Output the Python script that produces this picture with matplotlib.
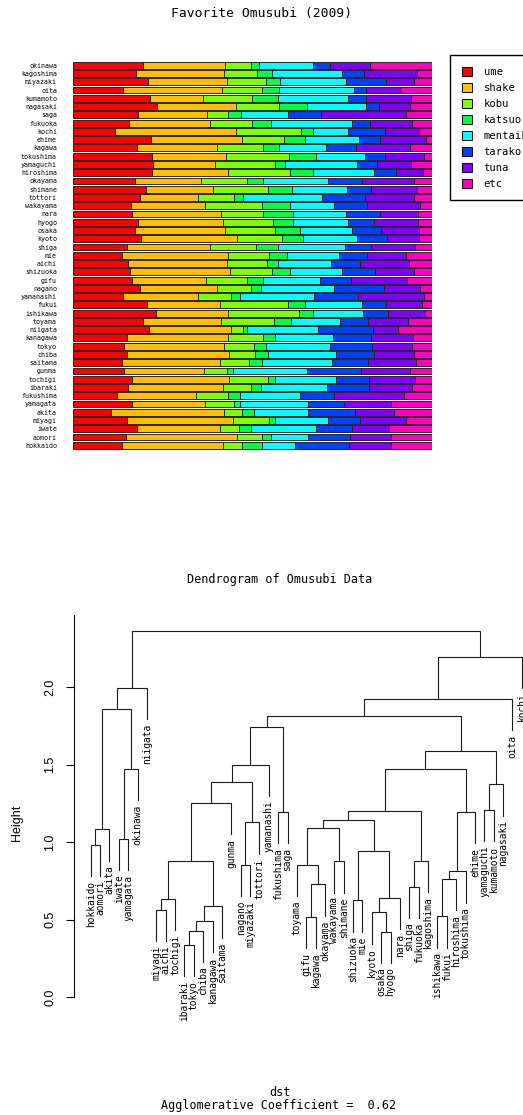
import numpy as np
import matplotlib
matplotlib.use("Agg")
import matplotlib.pyplot as plt
from matplotlib.patches import Patch

W, H = 523, 1115
MONO = "DejaVu Sans Mono"
SANS = "Liberation Sans"

# prefectures, bottom (hokkaido) to top (okinawa)
prefs = ["hokkaido", "aomori", "iwate", "miyagi", "akita", "yamagata", "fukushima",
         "ibaraki", "tochigi", "gunma", "saitama", "chiba", "tokyo", "kanagawa",
         "niigata", "toyama", "ishikawa", "fukui", "yamanashi", "nagano", "gifu",
         "shizuoka", "aichi", "mie", "shiga", "kyoto", "osaka", "hyogo", "nara",
         "wakayama", "tottori", "shimane", "okayama", "hiroshima", "yamaguchi",
         "tokushima", "kagawa", "ehime", "kochi", "fukuoka", "saga", "nagasaki",
         "kumamoto", "oita", "miyazaki", "kagoshima", "okinawa"]

# relative votes per flavour (normalised per prefecture below)
ume = [148, 160, 193, 163, 114, 177, 133, 166, 178, 153, 148, 161, 152, 161, 227, 209,
       249, 221, 151, 200, 178, 172, 166, 146, 161, 205, 185, 194, 177, 175, 201, 219,
       186, 237, 239, 238, 191, 234, 126, 169, 194, 251, 232, 151, 224, 189, 211]
shake = [301, 331, 248, 317, 338, 219, 236, 285, 291, 241, 293, 308, 302, 303, 248, 234,
         216, 221, 223, 231, 221, 298, 297, 318, 249, 286, 272, 255, 267, 221, 174, 200,
         197, 228, 186, 222, 241, 273, 363, 242, 209, 238, 158, 296, 239, 264, 246]
kobu = [59, 76, 56, 107, 55, 88, 95, 84, 114, 68, 86, 77, 88, 104, 35, 158,
        211, 203, 101, 103, 122, 127, 118, 122, 139, 136, 149, 150, 126, 171, 109, 165,
        138, 185, 180, 186, 136, 124, 193, 125, 62, 128, 147, 120, 115, 99, 78]
katsuo = [57, 26, 36, 18, 36, 16, 38, 28, 22, 19, 38, 38, 36, 37, 13, 52,
          43, 51, 25, 29, 49, 53, 32, 55, 65, 61, 73, 60, 89, 83, 27, 72,
          48, 68, 31, 82, 50, 64, 37, 56, 38, 84, 78, 51, 41, 45, 21]
mentaiko = [101, 111, 194, 160, 160, 203, 178, 197, 183, 219, 210, 205, 193, 174, 211, 147,
            150, 169, 222, 220, 171, 156, 160, 156, 202, 163, 157, 165, 159, 133, 236, 164,
            195, 184, 216, 147, 140, 162, 104, 243, 140, 176, 210, 223, 198, 209, 163]
tarako = [162, 125, 109, 95, 143, 108, 103, 127, 99, 162, 108, 113, 125, 113, 164, 83,
          76, 74, 132, 148, 93, 98, 86, 85, 77, 90, 88, 79, 101, 98, 128, 73,
          102, 67, 59, 59, 91, 64, 111, 56, 100, 39, 52, 36, 122, 65, 50]
tuna = [125, 125, 112, 139, 116, 142, 208, 128, 137, 149, 146, 120, 121, 127, 75, 121,
        110, 107, 197, 109, 167, 117, 149, 115, 132, 97, 114, 130, 115, 158, 147, 138,
        155, 81, 103, 119, 162, 136, 104, 126, 255, 94, 136, 106, 84, 160, 122]
etc = [123, 122, 128, 77, 114, 123, 85, 61, 52, 65, 47, 54, 59, 57, 103, 72,
       21, 30, 25, 36, 75, 55, 68, 79, 51, 38, 38, 43, 42, 37, 54, 45,
       55, 26, 62, 23, 65, 19, 38, 59, 78, 66, 63, 93, 53, 45, 185]

flavors = ["ume", "shake", "kobu", "katsuo", "mentaiko", "tarako", "tuna", "etc"]
colors = ["#FF0000", "#FFBF00", "#80FF00", "#00FF40", "#00FFFF", "#0040FF", "#8000FF", "#FF00BF"]

# agglomerative clustering merges: (left, right, height); int = earlier merge (1-based)
merges = [
    ("ibaraki", "tokyo", 0.337), ("osaka", "hyogo", 0.423), (1, "chiba", 0.430),
    (3, "kanagawa", 0.492), ("gifu", "kagawa", 0.520), ("ishikawa", "fukui", 0.523),
    ("kyoto", 2, 0.548), ("miyagi", "aichi", 0.565), (4, "saitama", 0.587),
    ("shizuoka", "mie", 0.626), (8, "tochigi", 0.636), (7, "nara", 0.643),
    ("shiga", "fukuoka", 0.714), (5, "okayama", 0.729), (6, "hiroshima", 0.763),
    (15, "tokushima", 0.813), ("toyama", 14, 0.854), ("nagano", "miyazaki", 0.854),
    ("wakayama", "shimane", 0.877), (11, 9, 0.880), (13, "kagoshima", 0.881),
    (10, 12, 0.942), ("hokkaido", "aomori", 0.985), ("iwate", "yamagata", 1.023),
    (23, "akita", 1.084), (17, 19, 1.090), (18, "tottori", 1.129), (26, 22, 1.146),
    ("fukushima", "saga", 1.195), (16, "ehime", 1.195), (28, 21, 1.200),
    ("yamaguchi", "kumamoto", 1.210), (20, "gunma", 1.253), (32, "nagasaki", 1.374),
    (33, 27, 1.391), (31, 30, 1.473), (24, "okinawa", 1.475), (35, "yamanashi", 1.500),
    (36, 34, 1.585), (38, 29, 1.744), (40, 39, 1.815), (25, 37, 1.858),
    (41, "oita", 1.925), (42, "niigata", 1.997), (43, "kochi", 2.197), (44, 45, 2.363),
]
agg_coef = 0.62


def box(x0, y0, x1, y1):
    # pixel box (top-left origin) -> figure fraction rect
    return [x0 / W, 1 - y1 / H, (x1 - x0) / W, (y1 - y0) / H]


fig = plt.figure(figsize=(W / 100, H / 100), dpi=100)
fig.patch.set_facecolor("white")

# ---------------- stacked proportion bars ----------------
ax = fig.add_axes(box(73, 58, 432, 452))
counts = np.array([ume, shake, kobu, katsuo, mentaiko, tarako, tuna, etc], dtype=float)
props = counts / counts.sum(axis=0)
ypos = np.arange(len(prefs))
left = np.zeros(len(prefs))
for name, col, p in zip(flavors, colors, props):
    ax.barh(ypos, p, left=left, height=0.83, color=col, edgecolor="#262626", linewidth=0.7)
    left += p
ax.set_xlim(0, 1)
ax.set_ylim(-0.81, 46.88)
ax.set_yticks(ypos)
ax.set_yticklabels(prefs, family=MONO, fontsize=4.8)
ax.tick_params(axis="y", length=0, pad=11.5)
ax.set_xticks([])
for s in ax.spines.values():
    s.set_visible(False)

handles = [Patch(facecolor=c, edgecolor="black", linewidth=0.7) for c in colors]
fig.legend(handles, flavors, loc="upper left", bbox_to_anchor=(450 / W, 1 - 55 / H),
           prop={"family": MONO, "size": 7.6}, frameon=True, fancybox=False,
           edgecolor="black", framealpha=1, handlelength=0.95, handleheight=0.95,
           handletextpad=1.15, labelspacing=0.55, borderpad=1.1, borderaxespad=0)

fig.text(262 / W, 1 - 13 / H, "Favorite Omusubi (2009)", ha="center", va="center",
         family=MONO, fontsize=9.4)

# ---------------- dendrogram ----------------
ax2 = fig.add_axes(box(73.5, 615, 539, 1030))
order = []


def walk(node):
    if isinstance(node, str):
        order.append(node)
        return
    a, b, _ = merges[node - 1]
    walk(a)
    walk(b)


walk(len(merges))
leaf_x = {n: i + 1 for i, n in enumerate(order)}
heights = [m[2] for m in merges]
hang = 0.1 * (max(heights) - min(heights))
node_x = {}
for k, (a, b, h) in enumerate(merges, 1):
    xs, ys = [], []
    for child in (a, b):
        if isinstance(child, str):
            xc, yc = leaf_x[child], h - hang
            ax2.text(xc, yc - 0.03, child, rotation=90, ha="center", va="top",
                     family=MONO, fontsize=6.9, clip_on=False)
        else:
            xc, yc = node_x[child], merges[child - 1][2]
        xs.append(xc)
        ys.append(yc)
    ax2.plot([xs[0], xs[0], xs[1], xs[1]], [ys[0], h, h, ys[1]], color="#1a1a1a",
             linewidth=0.8, solid_joinstyle="miter")
    node_x[k] = (xs[0] + xs[1]) / 2

ax2.set_xlim(1 - 0.04 * 46, 47 + 0.04 * 46)
ax2.set_ylim(-0.211, 2.465)
for side in ("top", "right", "bottom"):
    ax2.spines[side].set_visible(False)
ax2.spines["left"].set_bounds(0, 2.465)
ax2.spines["left"].set_linewidth(0.8)
ax2.set_xticks([])
yt = [0.0, 0.5, 1.0, 1.5, 2.0]
ax2.set_yticks(yt)
ax2.set_yticklabels([f"{v:.1f}" for v in yt], rotation=90, va="center",
                    family=SANS, fontsize=9)
ax2.tick_params(axis="y", length=5.8, width=0.8, pad=6.5)

fig.text(17 / W, 1 - 822.5 / H, "Height", rotation=90, ha="center", va="center",
         family=SANS, fontsize=9)
fig.text(280 / W, 1 - 580 / H, "Dendrogram of Omusubi Data", ha="center", va="center",
         family=MONO, fontsize=8.5)
fig.text(280 / W, 1 - 1093 / H, "dst", ha="center", va="center", family=MONO, fontsize=8.5)
fig.text(279 / W, 1 - 1106 / H, f"Agglomerative Coefficient =  {agg_coef:.2f}",
         ha="center", va="center", family=MONO, fontsize=8.5)

fig.savefig("out.png", dpi=100)
